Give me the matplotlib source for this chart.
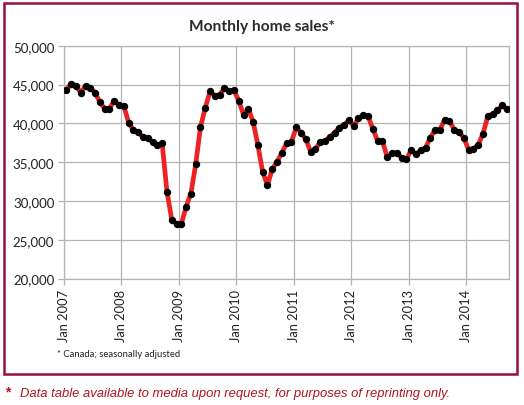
import matplotlib
matplotlib.use("Agg")
import matplotlib.pyplot as plt
from matplotlib.patches import Rectangle

# Monthly home sales, Jan 2007 - Sep 2014
sales = [44300, 45100, 44850, 43950, 44800, 44600, 43950, 42700, 41900, 41900, 42900, 42350,
         42200, 40100, 39100, 38850, 38200, 38100, 37550, 37150, 37400, 31200, 27600, 27000,
         27000, 29250, 30950, 34700, 39500, 42000, 44100, 43550, 43700, 44500, 44200, 44250,
         42900, 41100, 41900, 40200, 37150, 33700, 32050, 34100, 35050, 36200, 37450, 37600,
         39500, 38800, 37950, 36350, 36650, 37600, 37700, 38250, 38800, 39450, 39800, 40400,
         39650, 40650, 41050, 40900, 39300, 37700, 37700, 35650, 36150, 36200, 35550, 35350,
         36550, 36000, 36550, 36850, 38150, 39150, 39200, 40450, 40350, 39150, 38850, 38150,
         36600, 36750, 37200, 38650, 40900, 41200, 41650, 42300, 41800]
year_labels = ["Jan 2007", "Jan 2008", "Jan 2009", "Jan 2010", "Jan 2011",
               "Jan 2012", "Jan 2013", "Jan 2014"]
y_ticks = [20000, 25000, 30000, 35000, 40000, 45000, 50000]

W, H = 524, 406
fig = plt.figure(figsize=(W / 100, H / 100), dpi=100)
fig.patch.set_facecolor("white")

ax = fig.add_axes([64 / W, 1 - 279.5 / H, (509.3 - 64) / W, (279.5 - 46.7) / H])
x = [i + 0.5 for i in range(len(sales))]
ax.plot(x, sales, color="#EE2222", lw=3.4, solid_joinstyle="round", zorder=3)
ax.plot(x, sales, ls="none", marker="o", ms=4.3, color="black", zorder=4)

ax.set_xlim(0, len(sales))
ax.set_ylim(20000, 50000)
ax.set_yticks(y_ticks)
ax.set_yticklabels([f"{v:,}" for v in y_ticks], fontsize=9.5, family="Lato", color="#222222")
ax.set_xticks([12 * i for i in range(len(year_labels))])
ax.set_xticklabels(year_labels, rotation=90, fontsize=9.3, family="Lato", color="#222222")
ax.grid(True, color="#b4b4b4", lw=0.9)
ax.set_axisbelow(True)
for s in ax.spines.values():
    s.set_color("#b4b4b4")
    s.set_linewidth(0.9)
ax.tick_params(axis="both", length=4, color="#b4b4b4", width=0.9, pad=3)
ax.tick_params(axis="x", pad=3.5)

fig.text(262 / W, 1 - 27 / H, "Monthly home sales*", ha="center", va="center",
         fontsize=11.2, fontweight="bold", family="Lato", color="#2b2b2b")
fig.text(57 / W, 1 - 355 / H, "* Canada; seasonally adjusted", ha="left", va="center",
         fontsize=6.8, family="Lato", color="#222222")

fig.add_artist(Rectangle((3.5 / W, 1 - 374.5 / H), (517 - 3.5) / W, (374.5 - 3.5) / H,
                         transform=fig.transFigure, fill=False, edgecolor="#9B0E3A", lw=1.8))

fig.text(5 / W, 1 - 392 / H, "*", ha="left", va="center", fontsize=10,
         family="Liberation Sans", color="#B0141E", fontweight="bold")
fig.text(20 / W, 1 - 394 / H,
         "Data table available to media upon request, for purposes of reprinting only.",
         ha="left", va="center", fontsize=9.35, family="Liberation Sans", style="italic",
         color="#B0141E")

fig.savefig("out.png", dpi=100)
